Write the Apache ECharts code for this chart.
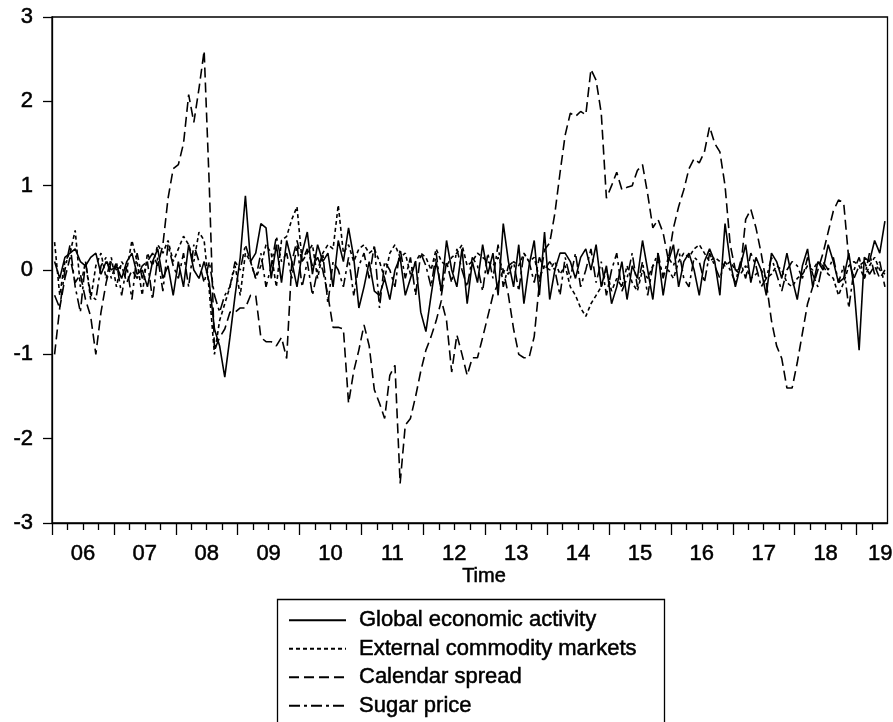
<!DOCTYPE html>
<html>
<head>
<meta charset="utf-8">
<title>Structural shocks</title>
<script src="https://cdn.jsdelivr.net/npm/echarts@6/dist/echarts.min.js"></script>
<style>
  html, body { margin: 0; padding: 0; background: #fff; }
  #chart { width: 893px; height: 722px; }
</style>
</head>
<body>
<div id="chart"></div>
<script>
// Monthly observations, 2006M01 - 2019M06 (162 months)
const startYear = 2006;
const yearLabels = ['06', '07', '08', '09', '10', '11', '12', '13', '14', '15', '16', '17', '18', '19'];
const seriesNames = ['Global economic activity', 'External commodity markets', 'Calendar spread', 'Sugar price'];

const globalActivity = [
  0.10, -0.10, 0.15, 0.20, 0.25, 0.10, 0.05, 0.15, 0.20, -0.05, 0.10, 0.00,
  0.05, -0.10, 0.10, 0.20, -0.05, 0.00, -0.20, 0.10, 0.25, -0.10, 0.05, -0.30,
  0.10, -0.20, 0.30, 0.00, -0.10, 0.10, -0.15, -0.70, -0.90, -1.27, -0.80, -0.30,
  0.15, 0.88, 0.10, 0.20, 0.55, 0.50, -0.10, 0.30, -0.15, 0.35, 0.10, -0.20,
  0.20, 0.45, -0.05, 0.30, 0.10, 0.20, -0.20, 0.35, 0.10, 0.50, 0.15, -0.45,
  -0.20, 0.10, -0.25, -0.30, -0.10, -0.35, 0.00, 0.15, -0.30, -0.10, 0.10, -0.50,
  -0.73, -0.30, 0.10, -0.25, 0.35, 0.00, -0.20, 0.25, -0.40, 0.10, -0.15, 0.30,
  -0.05, 0.20, -0.30, 0.55, 0.10, -0.20, 0.30, -0.40, 0.05, 0.35, -0.30, 0.45,
  -0.35, 0.00, 0.20, 0.20, 0.10, -0.10, 0.15, 0.25, 0.00, 0.30, -0.20, 0.05,
  -0.40, -0.20, 0.10, -0.35, 0.05, -0.10, 0.35, 0.00, -0.35, 0.20, -0.30, 0.10,
  0.30, -0.20, 0.10, 0.20, 0.00, -0.30, 0.10, 0.25, 0.10, -0.30, 0.55, 0.10,
  -0.20, 0.05, 0.30, -0.15, 0.15, 0.00, -0.30, 0.20, 0.10, -0.10, 0.20, -0.10,
  -0.35, 0.05, 0.25, -0.20, 0.10, 0.00, 0.30, 0.10, -0.15, -0.10, 0.20, -0.20,
  -0.95, 0.15, 0.10, 0.35, 0.20, 0.58
];

const externalMarkets = [
  0.33, -0.30, 0.10, 0.20, 0.47, -0.20, 0.10, -0.35, 0.05, 0.20, -0.10, 0.15,
  -0.20, 0.10, 0.00, 0.35, 0.10, -0.30, 0.20, 0.05, 0.30, 0.20, 0.35, 0.10,
  0.25, 0.40, 0.30, 0.10, 0.45, 0.35, -0.25, -1.00, -0.60, -0.40, -0.20, 0.05,
  -0.30, 0.20, 0.10, -0.10, 0.05, 0.30, 0.20, -0.20, 0.35, 0.40, 0.60, 0.75,
  0.10, 0.20, 0.30, -0.10, 0.20, 0.30, 0.25, 0.77, 0.20, 0.30, 0.10, 0.25,
  0.30, 0.20, 0.25, 0.10, -0.10, 0.20, 0.30, 0.15, 0.20, -0.05, 0.10, 0.20,
  0.15, 0.00, 0.25, 0.10, 0.05, 0.15, 0.20, 0.30, 0.05, 0.10, 0.20, 0.15,
  0.10, 0.05, 0.15, 0.00, -0.05, 0.10, 0.05, 0.20, 0.10, 0.15, -0.10, 0.05,
  0.00, 0.10, -0.05, 0.05, -0.20, -0.30, -0.45, -0.55, -0.40, -0.30, -0.20, 0.00,
  -0.25, -0.10, -0.20, 0.05, -0.15, -0.25, 0.00, -0.10, 0.05, 0.10, -0.05, 0.00,
  -0.10, 0.10, 0.20, 0.15, 0.25, 0.30, 0.20, 0.10, 0.15, 0.10, 0.05, 0.10,
  0.00, -0.05, 0.05, -0.10, -0.05, 0.00, -0.10, -0.05, 0.05, 0.00, -0.15, -0.20,
  -0.10, -0.05, 0.05, 0.00, 0.10, 0.05, -0.05, -0.10, -0.30, -0.15, 0.05, 0.10,
  0.05, -0.10, 0.05, 0.15, 0.00, -0.05
];

const calendarSpread = [
  -1.00, -0.45, -0.10, 0.15, -0.15, -0.05, -0.35, -0.55, -1.00, -0.50, -0.15, 0.10,
  0.00, 0.05, -0.15, 0.00, -0.10, 0.05, 0.10, 0.20, 0.05, 0.30, 0.85, 1.20,
  1.25, 1.50, 2.08, 1.75, 2.15, 2.60, 1.00, -0.95, -0.80, -0.70, -0.50, -0.50,
  -0.45, -0.45, -0.30, -0.30, -0.80, -0.85, -0.85, -0.90, -0.80, -1.05, 0.10, 0.35,
  0.10, 0.25, 0.05, 0.15, 0.00, -0.30, -0.68, -0.68, -0.70, -1.58, -1.20, -0.95,
  -0.65, -0.90, -1.42, -1.58, -1.76, -1.25, -1.13, -2.53, -1.84, -1.76, -1.50, -1.20,
  -0.95, -0.79, -0.60, -0.36, -0.60, -1.21, -0.77, -1.00, -1.25, -1.04, -1.04, -0.80,
  -0.55, -0.30, -0.16, 0.00, -0.30, -0.70, -1.00, -1.04, -1.04, -0.79, -0.16, 0.24,
  0.32, 0.67, 1.15, 1.60, 1.86, 1.82, 1.88, 1.84, 2.38, 2.25, 1.86, 0.85,
  1.00, 1.16, 0.95, 0.98, 1.00, 1.18, 1.25, 0.90, 0.50, 0.60, 0.44, 0.12,
  0.50, 0.75, 0.95, 1.20, 1.32, 1.27, 1.40, 1.70, 1.50, 1.40, 1.00, 0.30,
  0.00, 0.00, 0.60, 0.72, 0.50, 0.20, -0.15, -0.60, -0.90, -1.05, -1.40, -1.40,
  -1.10, -0.75, -0.40, -0.20, 0.00, 0.20, 0.45, 0.70, 0.83, 0.80, 0.12, -0.10,
  0.05, 0.10, -0.05, 0.05, -0.10, 0.00
];

const sugarPrice = [
  -0.30, -0.45, 0.00, 0.30, -0.20, -0.50, 0.10, -0.30, -0.35, 0.05, 0.15, -0.10,
  0.10, -0.30, 0.05, -0.35, 0.20, -0.10, 0.10, -0.35, 0.15, -0.25, 0.30, 0.05,
  -0.10, 0.20, -0.20, 0.30, 0.10, -0.15, 0.10, -0.30, -0.50, -0.30, -0.20, 0.10,
  0.00, 0.30, 0.10, -0.10, 0.20, -0.20, 0.05, 0.40, 0.10, 0.20, -0.10, 0.30,
  -0.20, 0.10, -0.30, 0.00, 0.20, -0.40, 0.10, 0.00, -0.20, 0.15, -0.30, 0.05,
  0.20, -0.10, 0.30, -0.45, 0.10, 0.00, -0.20, 0.25, -0.10, 0.15, -0.30, 0.20,
  0.05, -0.20, 0.20, -0.30, 0.10, -0.15, 0.25, 0.00, -0.20, 0.15, 0.05, -0.25,
  0.20, -0.10, 0.30, -0.20, 0.05, 0.10, -0.25, 0.20, 0.10, -0.15, 0.15, 0.00,
  0.10, 0.00, -0.30, 0.15, -0.10, 0.20, -0.20, 0.00, 0.25, -0.15, 0.10, -0.30,
  0.00, 0.20, -0.25, -0.10, 0.20, -0.20, 0.10, -0.30, 0.05, 0.20, -0.10, 0.15,
  0.05, 0.25, -0.10, -0.20, 0.15, 0.10, -0.15, 0.20, 0.05, -0.10, 0.10, 0.00,
  -0.15, 0.10, -0.10, 0.20, 0.05, -0.20, -0.10, 0.15, -0.05, -0.25, 0.00, 0.10,
  0.05, -0.10, 0.15, -0.05, -0.20, 0.10, 0.00, 0.15, -0.15, 0.05, -0.45, 0.00,
  0.15, -0.10, 0.20, -0.05, 0.10, -0.20
];

const FONT = "'Liberation Sans', Arial, Helvetica, sans-serif";
const nMonths = calendarSpread.length;

// x positions are months since January of the start year, plotted mid-month
const toPoints = arr => arr.map((v, i) => [i + 0.5, v]);

// Year boundaries (major ticks), quarter ticks, and centred year labels
const yearTicks = [];
for (let m = 0; m < nMonths; m += 12) yearTicks.push(m);
const quarterTicks = [];
for (let m = 3; m < nMonths; m += 3) if (m % 12 !== 0) quarterTicks.push(m);
const labelPos = yearLabels.map((_, k) => k * 12 + 6);
labelPos[labelPos.length - 1] = 160.6; // last, partial year
const labelAt = {};
labelPos.forEach((p, k) => { labelAt[p] = yearLabels[k]; });

const dashStyles = ['solid', [4, 3], [10, 5], [11, 4, 3, 4]];
const seriesData = [globalActivity, externalMarkets, calendarSpread, sugarPrice];

// slightly heavier glyphs for all text
const heavy = { textBorderColor: '#000', textBorderWidth: 0.5 };

const chart = echarts.init(document.getElementById('chart'), null, { renderer: 'canvas' });

chart.setOption({
  animation: false,
  backgroundColor: '#fff',
  textStyle: { fontFamily: FONT, color: '#000' },
  grid: {
    left: 52, right: 5.5, top: 17, bottom: 199,
    show: true, borderColor: '#000', borderWidth: 1.3,
    containLabel: false, outerBoundsMode: 'none'
  },
  xAxis: [
    {
      type: 'value', min: 0, max: nMonths,
      axisLine: { show: true, onZero: false, lineStyle: { color: '#000', width: 1.3 } },
      axisTick: { show: true, customValues: yearTicks, length: 12, inside: false,
                  lineStyle: { color: '#000', width: 1.3 } },
      axisLabel: Object.assign({ show: true, customValues: labelPos, margin: 20,
                   fontSize: 22, fontFamily: FONT, color: '#000',
                   formatter: v => labelAt[v] || '' }, heavy),
      splitLine: { show: false }
    },
    {
      type: 'value', min: 0, max: nMonths, position: 'bottom',
      axisLine: { show: false, onZero: false },
      axisTick: { show: true, customValues: quarterTicks, length: 7, inside: false,
                  lineStyle: { color: '#000', width: 1.3 } },
      axisLabel: { show: false },
      splitLine: { show: false }
    }
  ],
  yAxis: {
    type: 'value', min: -3, max: 3, interval: 1,
    axisLine: { show: true, onZero: false, lineStyle: { color: '#000', width: 1.3 } },
    axisTick: { show: true, length: 9, inside: false, lineStyle: { color: '#000', width: 1.3 } },
    axisLabel: Object.assign({ margin: 19, fontSize: 22, fontFamily: FONT, color: '#000' }, heavy),
    splitLine: { show: false }
  },
  legend: {
    orient: 'vertical',
    left: 288, top: 606,
    padding: 0,
    itemGap: 0,
    itemWidth: 57, itemHeight: 14,
    itemStyle: { opacity: 0 },
    data: seriesNames,
    textStyle: Object.assign({ fontFamily: FONT, fontSize: 22, color: '#000', lineHeight: 28.5,
                 padding: [0, 0, 0, 8] }, heavy),
    selectedMode: false
  },
  graphic: [
    {
      type: 'rect', left: 275, top: 597,
      shape: { width: 387, height: 160 },
      style: { fill: 'none', stroke: '#000', lineWidth: 1.3 },
      silent: true
    },
    {
      type: 'text', x: 484, y: 576,
      style: { text: 'Time', font: "20px 'Liberation Sans', Arial, sans-serif",
               fill: '#000', stroke: '#000', lineWidth: 0.5,
               align: 'center', verticalAlign: 'middle' },
      silent: true
    }
  ],
  series: seriesNames.map((name, k) => ({
    name,
    type: 'line',
    xAxisIndex: 0,
    data: toPoints(seriesData[k]),
    showSymbol: false,
    symbol: 'none',
    lineStyle: { color: '#000', width: 1.6, type: dashStyles[k] },
    itemStyle: { color: '#000' },
    emphasis: { disabled: true }
  }))
});
</script>
</body>
</html>
